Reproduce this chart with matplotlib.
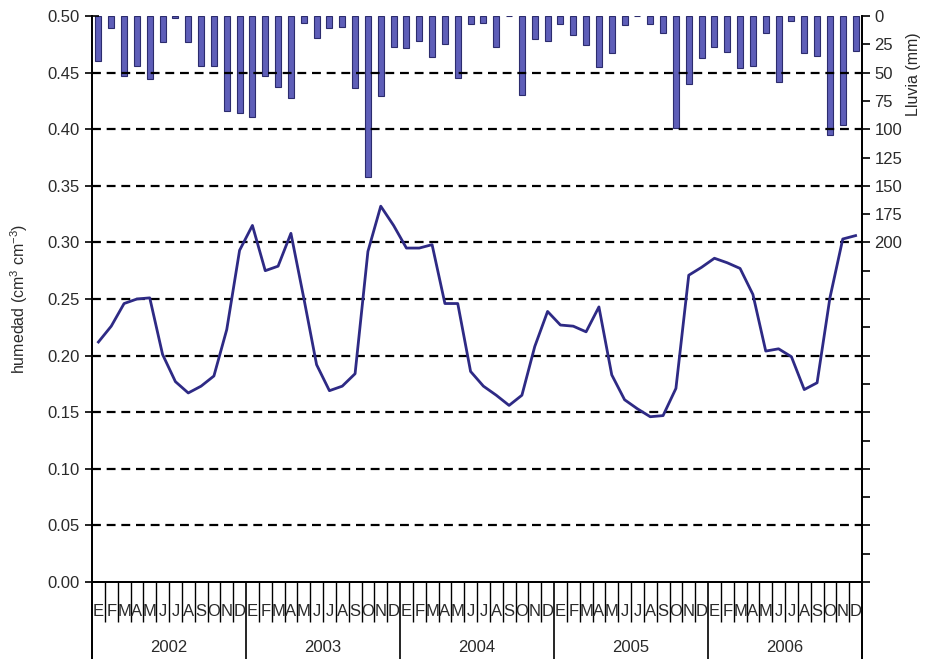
import matplotlib
matplotlib.use("Agg")
import matplotlib.pyplot as plt
import matplotlib.transforms as mtransforms
import numpy as np

plt.rcParams['font.family'] = ['Liberation Sans', 'DejaVu Sans']
plt.rcParams['mathtext.fontset'] = 'custom'
plt.rcParams['mathtext.rm'] = 'Liberation Sans'
plt.rcParams['mathtext.it'] = 'Liberation Sans'

years = ['2002', '2003', '2004', '2005', '2006']
months = ['E', 'F', 'M', 'A', 'M', 'J', 'J', 'A', 'S', 'O', 'N', 'D']

lluvia = [40, 11, 53, 44, 56, 23, 2, 23, 44, 44, 84, 86,
          89, 53, 63, 72, 6, 19, 11, 10, 64, 142, 71, 27,
          28, 22, 36, 25, 55, 7, 6, 27, 0, 70, 20, 22,
          7, 17, 26, 45, 33, 8, 0, 7, 15, 99, 60, 37,
          27, 32, 46, 44, 15, 58, 4, 33, 35, 105, 96, 31]

humedad = [0.212, 0.226, 0.246, 0.250, 0.251, 0.201, 0.177, 0.167, 0.173, 0.182, 0.223, 0.293,
           0.315, 0.275, 0.279, 0.308, 0.251, 0.192, 0.169, 0.173, 0.184, 0.292, 0.332, 0.315,
           0.295, 0.295, 0.298, 0.246, 0.246, 0.186, 0.173, 0.165, 0.156, 0.165, 0.208, 0.239,
           0.227, 0.226, 0.221, 0.243, 0.183, 0.161, 0.153, 0.146, 0.147, 0.171, 0.271, 0.278,
           0.286, 0.282, 0.277, 0.254, 0.204, 0.206, 0.199, 0.170, 0.176, 0.251, 0.303, 0.306]

n = len(humedad)
xc = np.arange(n) + 0.5
txtc = '#2a2a2a'

fig = plt.figure(figsize=(9.38, 6.59), dpi=100)
ax = fig.add_axes([92/938, 1-582/659, 770/938, 566/659])
ax2 = ax.twinx()

# bars (rain) on inverted right axis
ax2.bar(xc, lluvia, width=0.47, color='#5e5eb8', edgecolor='#2c2c6e', linewidth=0.8, zorder=2)
ax2.set_ylim(500, 0)
ax2.set_yticks(np.arange(0, 501, 25))
ax2.set_yticklabels([str(v) if v <= 200 else '' for v in range(0, 501, 25)], fontsize=12, color=txtc)
ax2.tick_params(axis='y', direction='out', length=6, width=1.2, pad=3)

ax.set_zorder(ax2.get_zorder() + 1)
ax.patch.set_visible(False)

# dashed grid
for g in np.arange(0.05, 0.46, 0.05):
    ax.axhline(g, color='black', linestyle=(0, (4, 2.6)), linewidth=1.6, zorder=1)

ax.plot(xc, humedad, color='#2e2a85', linewidth=2.0, zorder=3)

ax.set_xlim(0, n)
ax.set_ylim(0, 0.5)
ax.set_yticks(np.arange(0, 0.501, 0.05))
ax.set_yticklabels(['%.2f' % v for v in np.arange(0, 0.501, 0.05)], fontsize=12, color=txtc)
ax.tick_params(axis='y', direction='inout', length=10, width=1.2, pad=4)
ax.set_ylabel(r'humedad (cm$^3$ cm$^{-3}$)', fontsize=11.5, color=txtc, labelpad=12)

# x ticks: years long, months short
ax.set_xticks(np.arange(0, n + 1, 12))
ax.set_xticklabels([])
ax.set_xticks(np.arange(0, n + 1, 1), minor=True)
ax.tick_params(axis='x', which='major', direction='out', length=55.5, width=1.2)
ax.tick_params(axis='x', which='minor', direction='out', length=29, width=1.0)

trans = mtransforms.blended_transform_factory(ax.transData, ax.transAxes)
for i in range(n):
    ax.text(xc[i], -29/566, months[i % 12], transform=trans, ha='center', va='center',
            fontsize=12, color=txtc)
for k, y in enumerate(years):
    ax.text(12 * k + 6, -65/566, y, transform=trans, ha='center', va='center',
            fontsize=12, color=txtc)

for a in (ax, ax2):
    a.spines['top'].set_visible(False)
    for s in ['left', 'right', 'bottom']:
        a.spines[s].set_linewidth(1.3)

# axis lines extend down to figure bottom
ax.plot([0, 0], [0, -77/566*0.5], color='black', linewidth=1.3, clip_on=False,
        transform=ax.transData)
ax.plot([n, n], [0, -77/566*0.5], color='black', linewidth=1.3, clip_on=False,
        transform=ax.transData)

fig.text(0.974, 1-74/659, 'Lluvia (mm)', rotation=90, ha='center', va='center',
         fontsize=11.5, color=txtc)

fig.savefig('out.png', dpi=100)
